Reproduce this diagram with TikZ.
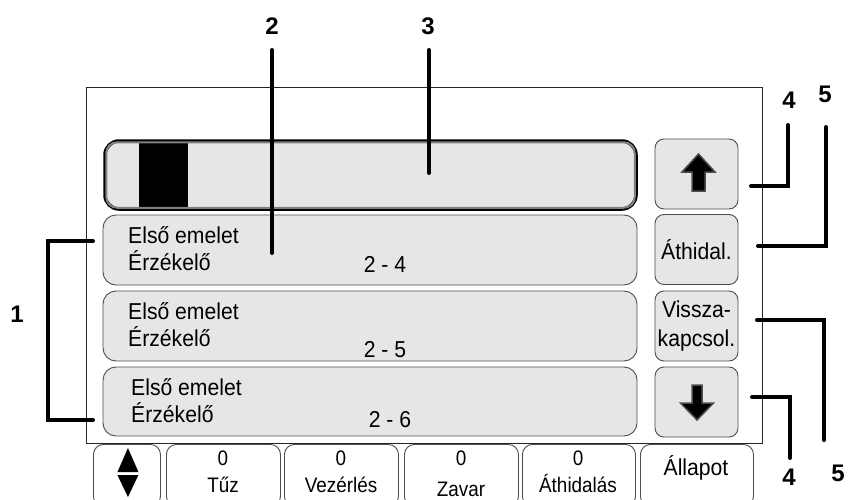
\documentclass[tikz,border=0pt]{standalone}
\usepackage{fontspec}
\setmainfont{Liberation Sans}
\newfontfamily\screenfont[FakeStretch=0.92]{Liberation Sans}
\newfontfamily\tabfont[FakeStretch=0.9]{Liberation Sans}
\definecolor{panel}{HTML}{E6E6E6}
\definecolor{edge}{HTML}{4D4D4D}
\tikzset{
  field/.style={draw=edge, fill=panel, line width=0.9pt, rounded corners=13pt, minimum width=534pt, minimum height=70pt, inner sep=0pt},
  key/.style={draw=edge, fill=panel, line width=0.9pt, rounded corners=9pt, minimum width=83pt, minimum height=70pt, inner sep=0pt, align=center, font=\screenfont\fontsize{23}{29}\selectfont},
  tab/.style={draw=edge, fill=white, line width=0.9pt, rounded corners=10pt, minimum height=62pt, inner sep=0pt, anchor=north west},
  rowtext/.style={inner sep=0pt, align=left, anchor=west, font=\screenfont\fontsize{23}{27}\selectfont},
  tabtext/.style={inner sep=0pt, anchor=base, font=\tabfont\fontsize{21}{24}\selectfont},
  num/.style={inner sep=0pt, font=\fontsize{24}{24}\selectfont\bfseries},
  leader/.style={line width=4pt, line cap=round},
  pointer/.style={fill=black, draw=edge, line width=1.5pt}
}
\begin{document}
\begin{tikzpicture}[x=1pt,y=-1pt]
  \useasboundingbox (0,0) rectangle (853,500);
  \clip (0,0) rectangle (853,500);
  \node[draw=black!85, line width=0.8pt, minimum width=676pt, minimum height=356pt, inner sep=0pt] (screen) at (424,265) {};

  \node[draw=black, fill=panel, line width=3.5pt, rounded corners=14pt, minimum width=531pt, minimum height=68pt, inner sep=0pt] (bar) at (370.5,175) {};
  \node[fill=black, minimum width=49pt, minimum height=65pt, inner sep=0pt] (level) at (163.5,175.5) {};
  \draw[gray, line width=2pt, rounded corners=11pt] ([xshift=3pt,yshift=-3pt]bar.north west) rectangle ([xshift=-3pt,yshift=3pt]bar.south east);

  \node[field] (r1) at (370,250) {};
  \node[field] (r2) at (370,326) {};
  \node[field, minimum height=69pt] (r3) at (370,401.5) {};
  \node[rowtext] (t1) at (128,249) {Első emelet\\Érzékelő};
  \node[rowtext] (t2) at (128,325) {Első emelet\\Érzékelő};
  \node[rowtext] (t3) at (131,400.5) {Első emelet\\Érzékelő};
  \node[rowtext, anchor=center] (n1) at (385,264.5) {2 - 4};
  \node[rowtext, anchor=center] (n2) at (385,349.5) {2 - 5};
  \node[rowtext, anchor=center] (n3) at (390,420) {2 - 6};

  \node[key] (up) at (696.5,174) {};
  \node[key] (bypass) at (696.5,249.5) {Áthidal.};
  \node[key] (reset) at (696.5,326) {Vissza-\\kapcsol.};
  \node[key] (down) at (696.5,402) {};
  \draw[pointer, shift={(up.center)}] (2,-20) -- (18.5,-2) -- (8.5,-2) -- (8.5,17) -- (-4.5,17) -- (-4.5,-2) -- (-14.5,-2) -- cycle;
  \draw[pointer, shift={(down.center)}] (-4.5,-17) -- (5.5,-17) -- (5.5,1) -- (17,1) -- (0.5,18) -- (-16,1) -- (-4.5,1) -- cycle;

  \node[tab, minimum width=67pt] (scroll) at (93,444) {};
  \node[tab, minimum width=114pt] (fire) at (166,444) {};
  \node[tab, minimum width=114pt] (ctrl) at (284,444) {};
  \node[tab, minimum width=114pt] (fault) at (404,444) {};
  \node[tab, minimum width=113pt] (skip) at (522,444) {};
  \node[tab, minimum width=113pt] (state) at (640,444) {};
  \fill[shift={(scroll.north)}] (1,4) -- (11.5,28) -- (-9.5,28) -- cycle;
  \fill[shift={(scroll.north)}] (-9.5,31) -- (11.5,31) -- (1,53) -- cycle;
  \node[tabtext] (c1) at (223,465) {0};
  \node[tabtext] (c2) at (341,465) {0};
  \node[tabtext] (c3) at (461,465) {0};
  \node[tabtext] (c4) at (578,465) {0};
  \node[tabtext] (w1) at (223,492) {Tűz};
  \node[tabtext] (w2) at (341,492) {Vezérlés};
  \node[tabtext] (w3) at (461,496) {Zavar};
  \node[tabtext] (w4) at (578,492) {Áthidalás};
  \node[tabtext, font=\screenfont\fontsize{23}{24}\selectfont] (w5) at (696,475) {Állapot};

  \node[num] (l1) at (17,314) {1};
  \node[num] (l2) at (272,26) {2};
  \node[num] (l3) at (428,26) {3};
  \node[num] (l4a) at (789,100) {4};
  \node[num] (l5a) at (825,94) {5};
  \node[num] (l4b) at (789,477) {4};
  \node[num] (l5b) at (838,473) {5};

  \coordinate (a2) at (272,50);
  \coordinate (b2) at (272,253);
  \coordinate (a3) at (429,50);
  \coordinate (b3) at (429,173);
  \coordinate (a1) at (93,241);
  \coordinate (b1) at (93,420);
  \coordinate (a4) at (751,186);
  \coordinate (b4) at (788,125);
  \coordinate (a5) at (758,246);
  \coordinate (b5) at (826,127);
  \coordinate (c5) at (757,320);
  \coordinate (d5) at (824,440);
  \coordinate (c4) at (752,397);
  \coordinate (d4) at (790,458);
  \draw[leader] (a2) -- (b2);
  \draw[leader] (a3) -- (b3);
  \draw[leader] (a1) -- ++(-45,0) |- (b1);
  \draw[leader] (a4) -| (b4);
  \draw[leader] (a5) -| (b5);
  \draw[leader] (c5) -| (d5);
  \draw[leader] (c4) -| (d4);
\end{tikzpicture}
\end{document}
